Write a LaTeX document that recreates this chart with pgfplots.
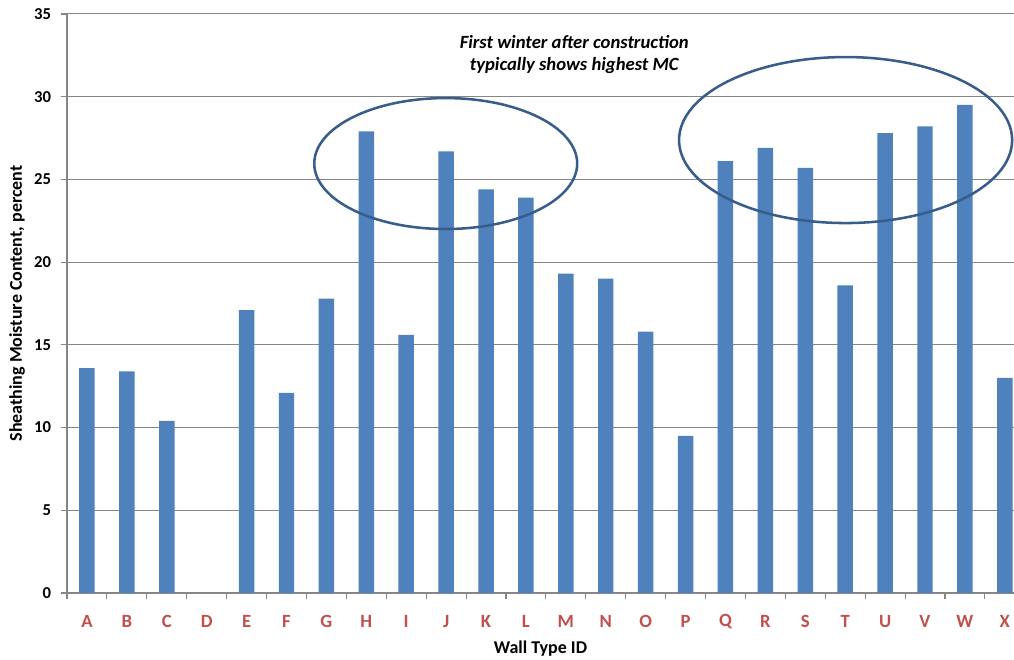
\documentclass[border=0pt]{standalone}
\usepackage{fontspec}
\setmainfont{Carlito}
\usepackage{pgfplots}
\pgfplotsset{compat=1.18}
\definecolor{barblue}{HTML}{4F81BD}
\definecolor{labred}{HTML}{C0504D}
\definecolor{gridgray}{HTML}{868686}
\definecolor{ellblue}{HTML}{385D8A}
\begin{document}
\begin{tikzpicture}
\path[use as bounding box] (0,0) rectangle (760.5pt,495pt);
\begin{axis}[
  at={(50.25pt,50.25pt)}, anchor=south west,
  scale only axis, width=710.25pt, height=434.25pt,
  xmin=-0.5, xmax=23.23, ymin=0, ymax=35,
  clip=false,
  ybar, bar width=11.6pt,
  axis x line*=bottom, axis y line*=left,
  axis line style={-, draw=gridgray, line width=0.8pt},
  ytick={0,5,...,35},
  ymajorgrids, grid style={draw=gridgray, line width=0.75pt},
  xtick={0,...,23},
  xticklabels={A,B,C,D,E,F,G,H,I,J,K,L,M,N,O,P,Q,R,S,T,U,V,W,X},
  minor xtick={-0.5,0.5,...,23.5},
  major x tick style={draw=none},
  minor x tick style={draw=gridgray, line width=0.8pt},
  major y tick style={draw=gridgray, line width=0.8pt},
  tick align=outside, major tick length=4.5pt, minor tick length=4.5pt,
  tick pos=left,
  /pgf/number format/assume math mode=true,
  xticklabel style={font=\fontsize{14}{16}\selectfont\bfseries, text=labred, anchor=center, yshift=-17pt},
  yticklabel style={font=\fontsize{12.5}{14}\selectfont\bfseries, text=black, xshift=-4pt},
  xlabel={Wall Type ID},
  ylabel={Sheathing Moisture Content, percent},
  label style={font=\fontsize{13.5}{16}\selectfont\bfseries},
  xlabel style={anchor=center, at={(axis description cs:0.5,0)}, yshift=-42pt},
  ylabel style={anchor=center, at={(axis description cs:0,0.5)}, yshift=37.5pt},
]
\addplot[fill=barblue, draw=none] coordinates {
(0,13.6) (1,13.4) (2,10.4) (4,17.1) (5,12.1) (6,17.8) (7,27.9) (8,15.6)
(9,26.7) (10,24.4) (11,23.9) (12,19.3) (13,19.0) (14,15.8) (15,9.5)
(16,26.1) (17,26.9) (18,25.7) (19,18.6) (20,27.8) (21,28.2) (22,29.5) (23,13.0)
};
\draw[ellblue, line width=1.9pt] (axis cs:8.99,25.96) ellipse [x radius=98.6pt, y radius=49.1pt];
\draw[ellblue, line width=1.9pt] (axis cs:19.01,27.38) ellipse [x radius=124.9pt, y radius=62.25pt];
\node[align=center, font=\fontsize{14}{16.5}\selectfont\bfseries\itshape] at (axis cs:12.21,32.58)
  {First winter after construction\\typically shows highest MC};
\end{axis}
\end{tikzpicture}
\end{document}
